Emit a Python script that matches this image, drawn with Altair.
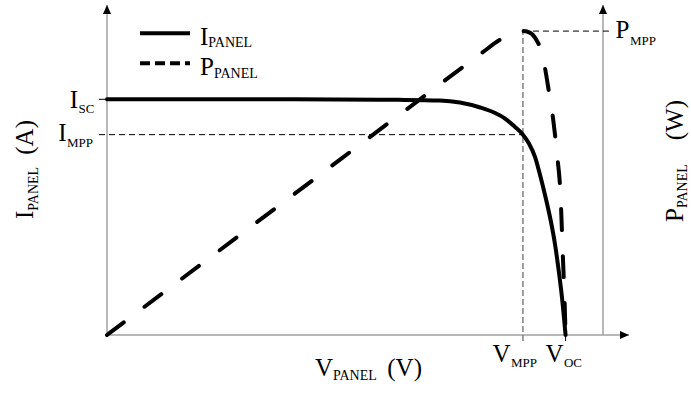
import altair as alt
import pandas as pd

# ---- characteristic values of the panel ----
V_MPP, V_OC = 20.0, 22.05        # V
I_SC, I_MPP = 5.0, 4.25          # A
P_MPP = 85.0                     # W

# I-V curve (volts, amps)
iv_volts = [0.0, 6.0, 11.0, 14.0, 16.0, 16.97, 17.94, 18.66, 19.14, 19.62,
            20.0, 20.29, 20.58, 20.82, 21.11, 21.35, 21.54, 21.71, 21.88, 22.05]
iv_amps = [5.0, 5.0, 4.995, 4.988, 4.974, 4.932, 4.826, 4.709, 4.592, 4.412,
           4.25, 4.062, 3.78, 3.40, 2.88, 2.397, 1.930, 1.400, 0.785, 0.0]

# P-V curve (volts, watts)
pv_volts = [0.0, 9.0, 15.0, 18.0, 18.9, 19.5, 20.0, 20.35, 20.65, 20.85,
            21.05, 21.25, 21.45, 21.65, 21.8, 21.92, 22.0, 22.05]
pv_watts = [0.0, 39.4, 65.7, 78.8, 82.6, 84.3, 85.0, 84.5, 82.5, 80.0,
            75.0, 68.0, 60.5, 50.0, 40.0, 22.0, 10.0, 0.0]

# ---- drawing area and scales ----
W, H = 522, 330
V_MAX, I_MAX, P_MAX = 25.1, 7.0, 92.3
V_RIGHT = 23.85                  # where the power axis stands
PX_V, PX_I, PX_P = W / V_MAX, H / I_MAX, H / P_MAX
TICK_V, TICK_I, TICK_P = 8 / PX_V, 6 / PX_I, 6 / PX_P

FONT = "Liberation Serif"
BIG, SUB, SUB_T = 25, 13, 14
GREY = "#a0a0a0"

xs = alt.Scale(domain=[0, V_MAX], nice=False, zero=False)
ys_i = alt.Scale(domain=[0, I_MAX], nice=False, zero=False)
ys_p = alt.Scale(domain=[0, P_MAX], nice=False, zero=False)
one = pd.DataFrame({"k": [0]})


def rules(df, scale, **style):
    return alt.Chart(df).mark_rule(**style).encode(
        x=alt.X("v:Q", scale=xs, axis=None), x2="v2:Q",
        y=alt.Y("y:Q", scale=scale, axis=None), y2="y2:Q")


def txt(text, x, y, size, align="left", angle=0):
    return alt.Chart(one).mark_text(
        text=text, font=FONT, fontSize=size, align=align,
        baseline="alphabetic", angle=angle, color="black"
    ).encode(x=alt.value(x), y=alt.value(y))


def sub_label(v, y, scale, main, sub, dx, dy_main, dy_sub):
    base = alt.Chart(pd.DataFrame({"v": [v], "y": [y]})).encode(
        x=alt.X("v:Q", scale=xs, axis=None),
        y=alt.Y("y:Q", scale=scale, axis=None))
    a = base.mark_text(text=main, font=FONT, fontSize=BIG, align="right",
                       baseline="alphabetic", dx=dx, dy=dy_main, color="black")
    b = base.mark_text(text=sub, font=FONT, fontSize=SUB, align="left",
                       baseline="alphabetic", dx=dx + 0.5, dy=dy_sub, color="black")
    return a + b


# axes
axes = rules(pd.DataFrame({"v": [0, 0, V_RIGHT], "v2": [0, V_MAX, V_RIGHT],
                           "y": [0, 0, 0], "y2": [I_MAX, 0, I_MAX]}),
             ys_i, color=GREY, strokeWidth=1.5)

up = "M0,0 L-0.45,1 L0.45,1 Z"
right = "M0,0 L-1,-0.45 L-1,0.45 Z"
arrow_up = alt.Chart(pd.DataFrame({"v": [0, V_RIGHT], "y": [I_MAX, I_MAX]})).mark_point(
    shape=up, size=324, filled=True, color="black", opacity=1, strokeWidth=0
).encode(x=alt.X("v:Q", scale=xs, axis=None), y=alt.Y("y:Q", scale=ys_i, axis=None))
arrow_right = alt.Chart(pd.DataFrame({"v": [V_MAX], "y": [0]})).mark_point(
    shape=right, size=324, filled=True, color="black", opacity=1, strokeWidth=0
).encode(x=alt.X("v:Q", scale=xs, axis=None), y=alt.Y("y:Q", scale=ys_i, axis=None))

# guide lines and ticks
g_impp = rules(pd.DataFrame({"v": [-TICK_V], "v2": [V_MPP], "y": [I_MPP], "y2": [I_MPP]}),
               ys_i, color="black", strokeWidth=1, strokeDash=[6, 4])
g_isc = rules(pd.DataFrame({"v": [-TICK_V], "v2": [0], "y": [I_SC], "y2": [I_SC]}),
              ys_i, color="black", strokeWidth=1)
g_vmpp = rules(pd.DataFrame({"v": [V_MPP], "v2": [V_MPP], "y": [-TICK_P], "y2": [P_MPP]}),
               ys_p, color="#808080", strokeWidth=1.5, strokeDash=[6, 3])
g_voc = rules(pd.DataFrame({"v": [V_OC], "v2": [V_OC], "y": [-TICK_I], "y2": [0]}),
              ys_i, color="black", strokeWidth=1)
g_pmpp = rules(pd.DataFrame({"v": [V_MPP], "v2": [V_RIGHT + TICK_V], "y": [P_MPP], "y2": [P_MPP]}),
               ys_p, color="black", strokeWidth=1, strokeDash=[6, 4])

# curves
i_curve = alt.Chart(pd.DataFrame({"v": iv_volts, "i": iv_amps})).mark_line(
    color="black", strokeWidth=4, interpolate="monotone", strokeCap="round"
).encode(x=alt.X("v:Q", scale=xs, axis=None),
         y=alt.Y("i:Q", scale=ys_i, axis=None), order="v:Q")
p_curve = alt.Chart(pd.DataFrame({"v": pv_volts, "p": pv_watts})).mark_line(
    color="black", strokeWidth=4, interpolate="monotone", strokeCap="round",
    strokeDash=[21, 26]
).encode(x=alt.X("v:Q", scale=xs, axis=None),
         y=alt.Y("p:Q", scale=ys_p, axis=None), order="v:Q")

# labels of the characteristic points
l_isc = sub_label(0, I_SC, ys_i, "I", "SC", -29, 8.7, 14)
l_impp = sub_label(0, I_MPP, ys_i, "I", "MPP", -40.5, 6.8, 12)
l_vmpp = sub_label(V_MPP, 0, ys_i, "V", "MPP", -12.4, 26.7, 31.7)
l_voc = sub_label(V_OC, 0, ys_i, "V", "OC", -2.1, 26.7, 32)
l_pmpp = sub_label(V_RIGHT, P_MPP, ys_p, "P", "MPP", 26.5, 7.2, 14)

# legend
leg_lines = alt.Chart(one).mark_rule(color="black", strokeWidth=4).encode(
    x=alt.value(33), x2=alt.value(83), y=alt.value(28.3))
leg_dash = alt.Chart(one).mark_rule(color="black", strokeWidth=4, strokeDash=[10, 5]).encode(
    x=alt.value(33), x2=alt.value(83), y=alt.value(58.3))
legend = (leg_lines + leg_dash
          + txt("I", 93, 40, BIG) + txt("PANEL", 101.3, 42, SUB_T)
          + txt("P", 93, 70, BIG) + txt("PANEL", 107, 73, SUB_T))

# axis titles
titles = (txt("V", 208, 371, BIG) + txt("PANEL", 226, 375, SUB_T)
          + txt("(V)", 315, 371, BIG, align="right")
          + txt("I", -74, 214, BIG, angle=270) + txt("PANEL", -69, 205.7, SUB_T, angle=270)
          + txt("(A)", -74, 115, BIG, align="right", angle=270)
          + txt("P", 576, 217, BIG, angle=270) + txt("PANEL", 580, 203, SUB_T, angle=270)
          + txt("(W)", 576, 95, BIG, align="right", angle=270))

chart = alt.layer(
    axes, g_impp, g_isc, g_vmpp, g_voc, g_pmpp,
    i_curve, p_curve, arrow_up, arrow_right,
    l_isc, l_impp, l_vmpp, l_voc, l_pmpp, legend, titles
).resolve_scale(y="independent").properties(
    width=W, height=H,
    padding={"left": 107, "top": 5, "right": 62, "bottom": 77},
    autosize=alt.AutoSizeParams(type="none"),
    background="white",
).configure_view(stroke=None)

chart.save("out.html", embed_options={"renderer": "svg", "actions": False})
